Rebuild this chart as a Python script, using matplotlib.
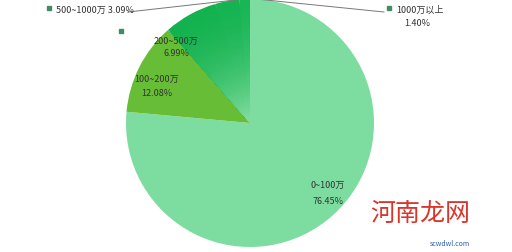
import matplotlib.pyplot as plt
import numpy as np
from matplotlib.colors import to_rgb

plt.rcParams['font.family'] = ['Noto Sans CJK SC', 'DejaVu Sans']

labels = ['0~100万', '100~200万', '200~500万', '500~1000万', '1000万以上']
shares = [76.45, 12.08, 6.99, 3.09, 1.40]
colors = ['#7ddc9f', '#68bd37', '#14b24f', '#16b352', '#1ab656']
gradient = [False, False, True, True, True]

W, H = 512, 252
cx, cy, r = 250, H - 123, 124

fig = plt.figure(figsize=(W / 100, H / 100), dpi=100)
ax = fig.add_axes([0, 0, 1, 1])

ax.pie(shares, colors=colors, startangle=90, counterclock=False,
       center=(cx, cy), radius=r, wedgeprops=dict(linewidth=0))

# lighter towards the centre on the dark slices
light = np.array(to_rgb('#86dea2'))
steps = 45
for i in range(steps):
    k = 1 - (i + 1) / (steps + 1)
    t = ((i + 1) / steps) ** 1.8
    cols = []
    for c, g in zip(colors, gradient):
        if g:
            base = np.array(to_rgb(c))
            cols.append(tuple(base + (light - base) * t))
        else:
            cols.append('none')
    ax.pie(shares, colors=cols, startangle=90, counterclock=False,
           center=(cx, cy), radius=r * k, wedgeprops=dict(linewidth=0))

ax.set_xlim(0, W)
ax.set_ylim(0, H)
ax.set_aspect('auto')
ax.axis('off')

txt = dict(fontsize=6.5, color='#333333', ha='center', va='center')

# labels inside slices
ax.text(328, H - 185, labels[0], **txt)
ax.text(328, H - 201, f'{shares[0]:.2f}%', **txt)
ax.text(157, H - 79, labels[1], **txt)
ax.text(157, H - 93, f'{shares[1]:.2f}%', **txt)
ax.text(176, H - 41, labels[2], **txt)
ax.text(176, H - 54, f'{shares[2]:.2f}%', **txt)

# outside labels with leader lines
ax.text(56, H - 10, f'{labels[3]} {shares[3]:.2f}%', fontsize=6.5, color='#333333',
        ha='left', va='center')
ax.text(396, H - 10, labels[4], fontsize=6.5, color='#333333', ha='left', va='center')
ax.text(417, H - 23, f'{shares[4]:.2f}%', **txt)

mark = dict(marker='s', markersize=3.5, color='#3e8e62', linestyle='none')
ax.plot([49], [H - 8], **mark)
ax.plot([389], [H - 8], **mark)
ax.plot([121], [H - 31], **mark)

ax.plot([128, 244], [H - 12, H + 1], color='#777777', linewidth=0.7, clip_on=False)
ax.plot([384, 256], [H - 12, H + 1], color='#777777', linewidth=0.7, clip_on=False)

# watermark
ax.text(420, H - 214, '河南龙网', fontsize=18, color='#d9352b', ha='center', va='center')
ax.text(450, H - 244, 'scwdwl.com', fontsize=5, color='#2a5caa', ha='center', va='center')

fig.savefig('out.png', dpi=100)
